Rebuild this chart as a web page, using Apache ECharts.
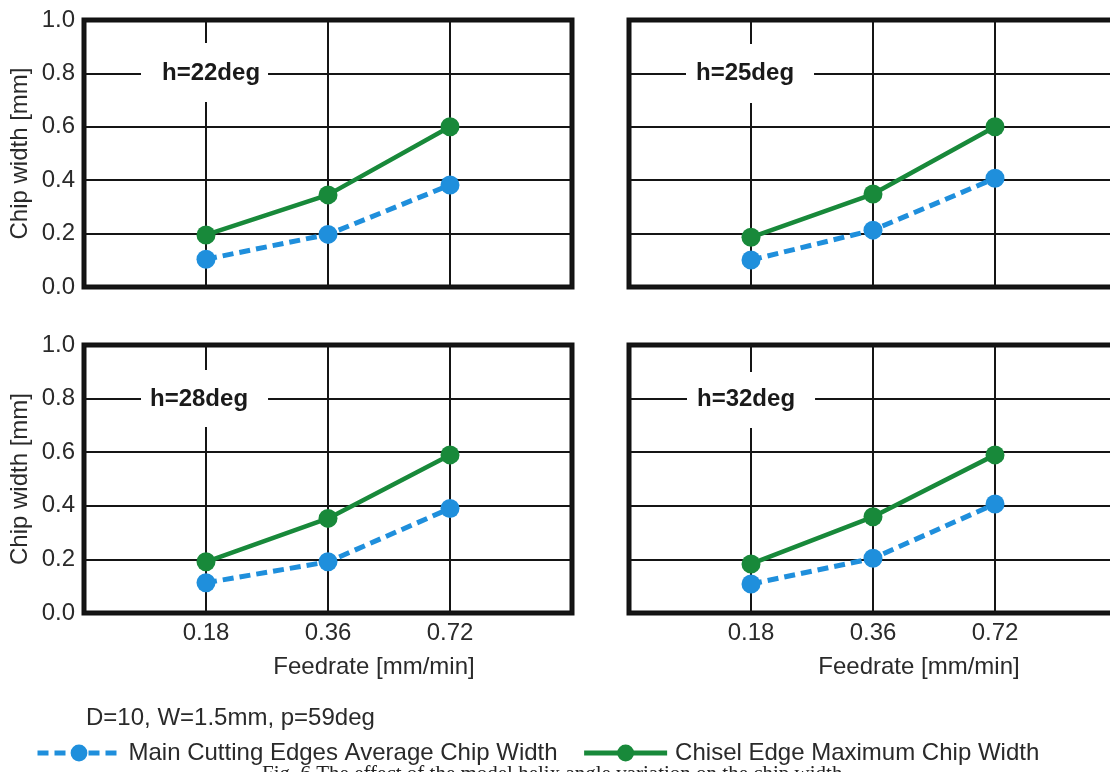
<!DOCTYPE html>
<html>
<head>
<meta charset="utf-8">
<script src="https://cdn.jsdelivr.net/npm/echarts@6/dist/echarts.min.js"></script>
<style>
html,body{margin:0;padding:0;background:#fff;overflow:hidden;width:1110px;height:772px;}
#chart{width:1130px;height:772px;}
</style>
</head>
<body>
<div id="chart"></div>
<script>
// ---- data ----
const feedrates = ['0.18', '0.36', '0.72'];
const yTicks = [0.0, 0.2, 0.4, 0.6, 0.8, 1.0];
const panelLabels = ['h=22deg', 'h=25deg', 'h=28deg', 'h=32deg'];
const seriesNames = ['Main Cutting Edges Average Chip Width', 'Chisel Edge Maximum Chip Width'];
const mainAvg22 = [0.104, 0.197, 0.382];
const chisel22  = [0.195, 0.345, 0.600];
const mainAvg25 = [0.101, 0.213, 0.407];
const chisel25  = [0.186, 0.348, 0.600];
const mainAvg28 = [0.113, 0.191, 0.390];
const chisel28  = [0.191, 0.353, 0.590];
const mainAvg32 = [0.108, 0.204, 0.407];
const chisel32  = [0.183, 0.359, 0.590];
const noteText = 'D=10, W=1.5mm, p=59deg';
const captionText = 'Fig. 6 The effect of the model helix angle variation on the chip width';
const xName = 'Feedrate [mm/min]';
const yName = 'Chip width [mm]';

const panelData = [
  [mainAvg22, chisel22],
  [mainAvg25, chisel25],
  [mainAvg28, chisel28],
  [mainAvg32, chisel32]
];

// ---- layout ----
const FONT = "'Liberation Sans', Arial, Helvetica, sans-serif";
const BLUE = '#1f8fdc';
const GREEN = '#18893a';
const grids = [
  {left: 84, top: 20, width: 488, height: 267},
  {left: 629, top: 20, width: 488, height: 267},
  {left: 84, top: 345, width: 488, height: 268},
  {left: 629, top: 345, width: 488, height: 268}
];
const labelBoxes = [
  {left: 141, top: 43, padding: [18, 8, 17, 21]},
  {left: 686, top: 44, padding: [17, 20, 18, 10]},
  {left: 141, top: 370, padding: [17, 20, 16, 9]},
  {left: 687, top: 372, padding: [15, 20, 17, 10]}
];

const xAxes = [], yAxes = [], series = [], titles = [];
grids.forEach((g, i) => {
  const isBottom = i >= 2, isLeft = i % 2 === 0;
  xAxes.push({
    gridIndex: i, type: 'value', min: 0, max: feedrates.length + 1, interval: 1,
    axisLine: {show: false}, axisTick: {show: false},
    splitLine: {show: true, lineStyle: {color: '#151515', width: 2}},
    axisLabel: {
      show: isBottom, margin: 8, fontSize: 24, color: '#2a2a2a', fontFamily: FONT,
      formatter: v => feedrates[v - 1] || ''
    },
    name: isBottom ? xName : '', nameLocation: 'middle', nameGap: 42,
    nameTextStyle: {fontSize: 24, color: '#2a2a2a', fontFamily: FONT, padding: [0, 0, 0, 92]}
  });
  yAxes.push({
    gridIndex: i, type: 'value', min: yTicks[0], max: yTicks[yTicks.length - 1], interval: 0.2,
    axisLine: {show: false}, axisTick: {show: false},
    splitLine: {show: true, lineStyle: {color: '#151515', width: 2}},
    axisLabel: {
      show: isLeft, margin: 9, fontSize: 24, color: '#2a2a2a', fontFamily: FONT,
      formatter: v => v.toFixed(1)
    },
    name: isLeft ? yName : '', nameLocation: 'middle', nameGap: 52,
    nameTextStyle: {fontSize: 24, color: '#2a2a2a', fontFamily: FONT}
  });
  const [blue, green] = panelData[i];
  series.push({
    name: seriesNames[0], type: 'line', xAxisIndex: i, yAxisIndex: i,
    data: blue.map((v, k) => [k + 1, v]),
    symbol: 'circle', symbolSize: 19, color: BLUE,
    lineStyle: {color: BLUE, width: 5, type: [11, 6]},
    itemStyle: {color: BLUE}, z: 3, animation: false
  });
  series.push({
    name: seriesNames[1], type: 'line', xAxisIndex: i, yAxisIndex: i,
    data: green.map((v, k) => [k + 1, v]),
    symbol: 'circle', symbolSize: 19, color: GREEN,
    lineStyle: {color: GREEN, width: 4.5, type: 'solid'},
    itemStyle: {color: GREEN}, z: 4, animation: false
  });
  titles.push({
    text: panelLabels[i], left: labelBoxes[i].left, top: labelBoxes[i].top,
    padding: labelBoxes[i].padding, backgroundColor: '#ffffff', z: 10,
    textStyle: {fontSize: 24, fontWeight: 'bold', color: '#1a1a1a', fontFamily: FONT, lineHeight: 24}
  });
});
titles.push({
  text: noteText, left: 86, top: 705, padding: 0,
  textStyle: {fontSize: 24, fontWeight: 'normal', color: '#2a2a2a', fontFamily: FONT, lineHeight: 26}
});
titles.push({
  text: captionText, left: 262, top: 763, padding: 0,
  textStyle: {fontSize: 21, fontWeight: 'normal', color: '#222', fontFamily: "'Liberation Serif', 'Times New Roman', serif", lineHeight: 22}
});

const chart = echarts.init(document.getElementById('chart'), null, {renderer: 'canvas'});
chart.setOption({
  backgroundColor: '#ffffff',
  animation: false,
  title: titles,
  grid: grids.map(g => Object.assign({show: true, borderColor: '#111', borderWidth: 5, backgroundColor: 'transparent', containLabel: false}, g)),
  xAxis: xAxes,
  yAxis: yAxes,
  legend: {
    data: seriesNames, left: 35, top: 741, itemWidth: 83, itemHeight: 21, itemGap: 24,
    padding: 0, selectedMode: false,
    lineStyle: {width: 5},
    textStyle: {fontSize: 24, color: '#2a2a2a', fontFamily: FONT, padding: [0, 0, 0, 3]}
  },
  series: series
});
</script>
</body>
</html>
